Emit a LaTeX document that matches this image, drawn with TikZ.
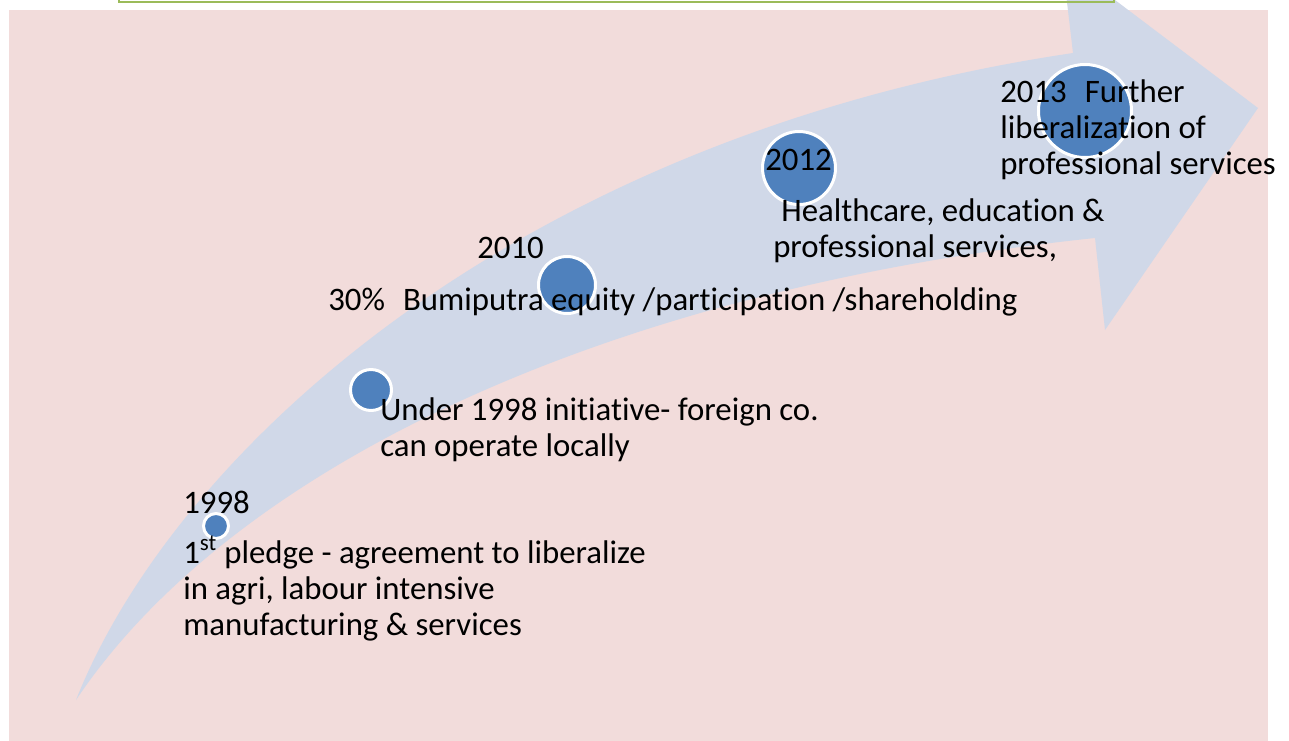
\documentclass[tikz,border=0pt]{standalone}
\usepackage{fontspec}
\setmainfont{Carlito}[Ligatures=NoCommon]
\definecolor{slidepink}{HTML}{F2DCDB}
\definecolor{arrowblue}{HTML}{D0D8E8}
\definecolor{dotblue}{HTML}{4F81BD}
\definecolor{boxgreen}{HTML}{9BBB59}
\tikzstyle{dot} = [circle, fill=dotblue, draw=white, line width=2.25pt, inner sep=0pt]
\tikzstyle{note} = [anchor=base west, inner sep=0pt, align=left, font=\fontsize{24.6}{27}\selectfont]

\begin{document}
\begin{tikzpicture}[x=0.75pt, y=-0.75pt]
  \useasboundingbox (0,0) rectangle (1289,740);
  \clip (0,0) rectangle (1289,740);
  \fill[slidepink] (9,10) rectangle (1268,745);
  % curved arrow
  \fill[arrowblue] (76,700) .. controls (230,470) and (600,290) .. (1095,238)
    -- (1105,330) -- (1258,108) -- (1062,-40) -- (1073,53)
    .. controls (520,135) and (175,450) .. (76,700) -- cycle;
  \draw[boxgreen, line width=1.5pt] (119,-30) rectangle (1114,2);
  % milestones
  \node[dot, minimum size=18.75pt] (d1998) at (216,526) {};
  \node[dot, minimum size=30.75pt] (dinit) at (371,390) {};
  \node[dot, minimum size=42.75pt] (d2010) at (567,285) {};
  \node[dot, minimum size=54.75pt] (d2012) at (799,168) {};
  \node[dot, minimum size=69.75pt] (d2013) at (1085,111) {};
  % texts (base = last line)
  \node[note] (t1998) at (183,513) {1998};
  \node[note] (pledge) at (183,635) {1\textsuperscript{st} pledge - agreement to liberalize\\in agri, labour intensive\\manufacturing \& services};
  \node[note] (initiative) at (380,456) {Under 1998 initiative- foreign co.\\can operate locally};
  \node[note] (t2010) at (477,258) {2010};
  \node[note] (equity) at (328,310) {30\%\hspace{0.55em}Bumiputra equity /participation /shareholding};
  \node[note] (t2012) at (765,170) {2012};
  \node[note] (health) at (773,257) {\hspace*{0.25em}Healthcare, education \&\\professional services,};
  \node[note] (t2013) at (1000,174) {2013\hspace{0.55em}Further\\liberalization of\\professional services};
\end{tikzpicture}
\end{document}
